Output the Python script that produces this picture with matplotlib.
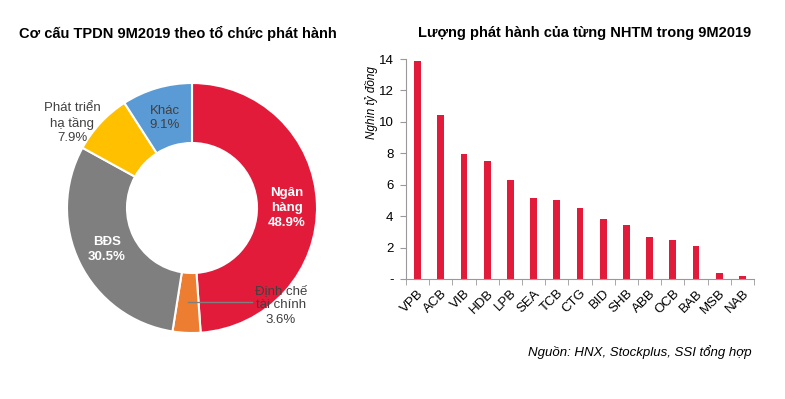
import numpy as np
import matplotlib
matplotlib.use('Agg')
import matplotlib.pyplot as plt

plt.rcParams['font.family'] = ['Liberation Sans', 'DejaVu Sans']

# Donut data
pie_labels = ['Ngân\nhàng', 'Định chế\ntài chính', 'BĐS', 'Phát triển\nhạ tầng', 'Khác']
pie_values = [48.9, 3.6, 30.5, 7.9, 9.1]
pie_colors = ['#E31B3B', '#ED7D31', '#7F7F7F', '#FFC000', '#5B9BD5']

# Bar data
banks = ['VPB', 'ACB', 'VIB', 'HDB', 'LPB', 'SEA', 'TCB', 'CTG', 'BID', 'SHB',
         'ABB', 'OCB', 'BAB', 'MSB', 'NAB']
issued = [13.9, 10.45, 7.95, 7.5, 6.3, 5.15, 5.0, 4.55, 3.8, 3.45,
          2.7, 2.5, 2.1, 0.4, 0.2]

W, H = 785, 399
fig = plt.figure(figsize=(W / 100, H / 100), dpi=100)

# ---- donut ----
cx, cy, r = 192, 208, 125
ax1 = fig.add_axes([(cx - r) / W, (H - cy - r) / H, 2 * r / W, 2 * r / H])
wedges, _ = ax1.pie(pie_values, colors=pie_colors, startangle=90, counterclock=False,
                    radius=1, wedgeprops=dict(width=0.48, edgecolor='white', linewidth=1.5))
ax1.set_xlim(-1, 1)
ax1.set_ylim(-1, 1)
ax1.set_aspect('equal')
ax1.axis('off')

lab = dict(ha='center', va='center', fontsize=9.5, linespacing=1.3)
ax1.text(0.76, 0.0, 'Ngân\nhàng\n48.9%', color='white', fontweight='bold', **lab)
ax1.text(-0.68, -0.33, 'BĐS\n30.5%', color='white', fontweight='bold', **lab)
ax1.text(-0.22, 0.72, 'Khác\n9.1%', color='#404040', **lab)
ax1.text(-0.96, 0.68, 'Phát triển\nhạ tầng\n7.9%', color='#404040', **lab)
ax1.plot([-0.03, 0.48], [-0.755, -0.755], color='#7F7F7F', lw=1)
ax1.text(0.71, -0.78, 'Định chế\ntài chính\n3.6%', color='#404040', **lab)

fig.text(178 / W, 1 - 33 / H, 'Cơ cấu TPDN 9M2019 theo tổ chức phát hành',
         ha='center', va='center', fontsize=10.5, fontweight='bold')

# ---- bars ----
y0, y14 = 279, 59
ax2 = fig.add_axes([406 / W, (H - y0) / H, (754 - 406) / W, (y0 - y14) / H])
x = np.arange(len(banks))
ax2.bar(x, issued, width=0.3, color='#E31B3B')
ax2.set_xlim(-0.5, len(banks) - 0.5)
ax2.set_ylim(0, 14)
ax2.set_yticks(range(0, 15, 2))
ax2.set_yticklabels(['-'] + [str(v) for v in range(2, 15, 2)], fontsize=9.5)
ax2.set_xticks(x)
ax2.set_xticklabels(banks, rotation=45, ha='right', rotation_mode='anchor', fontsize=9.5)
ax2.tick_params(axis='x', length=0, pad=6)
ax2.set_xticks(np.arange(-0.5, len(banks), 1), minor=True)
ax2.tick_params(axis='x', which='minor', length=4, color='#999999')
ax2.tick_params(axis='y', length=4, color='#999999', pad=5)
for s in ['top', 'right']:
    ax2.spines[s].set_visible(False)
for s in ['left', 'bottom']:
    ax2.spines[s].set_color('#999999')
ax2.set_ylabel('Nghìn tỷ đồng', fontstyle='italic', fontsize=8.5)
ax2.yaxis.set_label_coords(-0.08, 0.8)

fig.text(585 / W, 1 - 33 / H, 'Lượng phát hành của từng NHTM trong 9M2019',
         ha='center', va='center', fontsize=10.5, fontweight='bold')
fig.text(752 / W, 1 - 352 / H, 'Nguồn: HNX, Stockplus, SSI tổng hợp',
         ha='right', va='center', fontsize=9.5, fontstyle='italic')

fig.savefig('out.png', dpi=100)
